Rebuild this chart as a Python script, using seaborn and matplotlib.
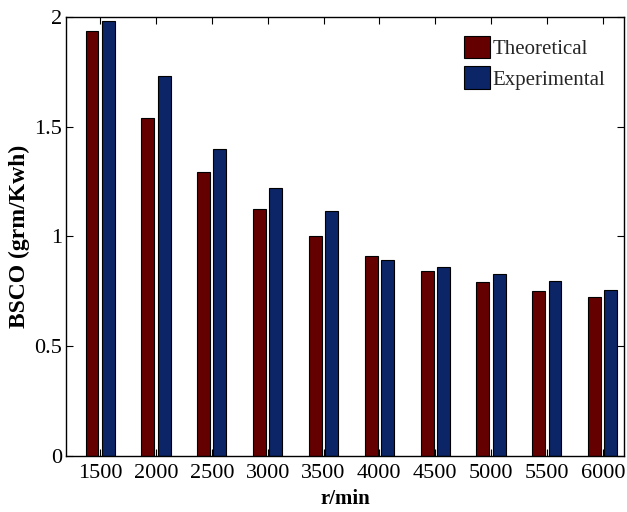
import matplotlib
matplotlib.use("Agg")
import matplotlib.pyplot as plt
import seaborn as sns
import pandas as pd
from matplotlib.ticker import FuncFormatter

speeds = ["1500", "2000", "2500", "3000", "3500", "4000", "4500", "5000", "5500", "6000"]
theoretical = [1.938, 1.541, 1.292, 1.125, 1.001, 0.913, 0.844, 0.793, 0.753, 0.724]
experimental = [1.980, 1.733, 1.399, 1.222, 1.116, 0.891, 0.862, 0.828, 0.797, 0.758]
series = ["Theoretical", "Experimental"]
colors = ["#650000", "#0b2566"]
yticks = [0, 0.5, 1, 1.5, 2]

df = pd.DataFrame({
    "speed": speeds * 2,
    "value": theoretical + experimental,
    "series": [series[0]] * len(speeds) + [series[1]] * len(speeds),
})

sns.set_theme(style="white")
plt.rcParams["font.family"] = ["Liberation Serif", "DejaVu Serif"]

fig = plt.figure(figsize=(6.27, 5.12), dpi=100)
ax = fig.add_axes([0.1053, 0.1094, 0.8899, 0.8574])

sns.barplot(data=df, x="speed", y="value", hue="series", order=speeds,
            hue_order=series, palette=colors, width=0.58, gap=0.2,
            edgecolor="black", linewidth=0.8, saturation=1, ax=ax)

ax.set_xlim(-0.61, 9.38)
ax.set_ylim(0, 2)
ax.set_yticks(yticks)
ax.yaxis.set_major_formatter(FuncFormatter(lambda v, p: "%g" % v))

for s in ax.spines.values():
    s.set_color("black")
    s.set_linewidth(1.0)
    s.set_visible(True)

ax.tick_params(axis="both", direction="in", length=5, width=0.8, color="black",
               labelsize=16, labelcolor="black", top=True, right=True,
               bottom=True, left=True)
ax.tick_params(axis="x", pad=6)
ax.tick_params(axis="y", pad=3)

ax.set_xlabel("r/min", fontsize=15, fontweight="bold", color="black", labelpad=4)
ax.set_ylabel("BSCO (grm/Kwh)", fontsize=17, fontweight="bold", color="black", labelpad=3)

leg = ax.legend(loc="upper right", frameon=False, fontsize=15,
                handlelength=1.25, handleheight=1.3, handletextpad=0.1,
                labelspacing=0.35, borderaxespad=0.6, borderpad=0.3)

fig.savefig("out.png", dpi=100)
